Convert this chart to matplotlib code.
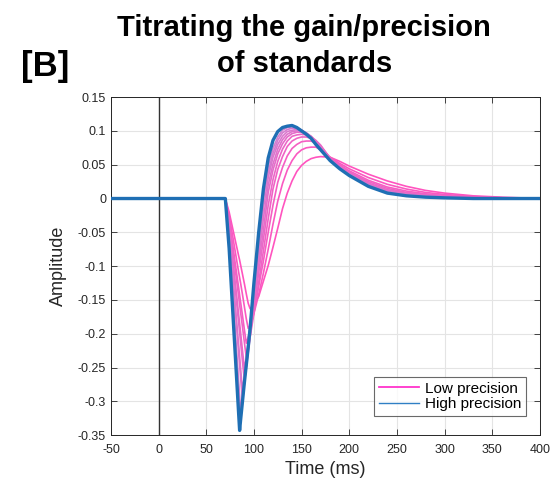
import matplotlib
matplotlib.use("Agg")
import matplotlib.pyplot as plt
from matplotlib.lines import Line2D
import numpy as np

plt.rcParams['font.family'] = ['Liberation Sans', 'DejaVu Sans']
plt.rcParams['axes.unicode_minus'] = False

# sample times (ms) shared by every curve
time_ms = [-50, 70, 74, 78, 80, 82, 84, 85, 86, 88, 90, 92, 94, 96,
           100, 105, 110, 115, 120, 125, 130, 135, 140, 145, 150, 155, 160, 165, 170,
           180, 190, 200, 220, 240, 260, 280, 300, 330, 360, 400]

# responses, lowest precision first, highest precision last
prec_01 = [0, 0, -0.020, -0.046, -0.059, -0.072, -0.085, -0.091, -0.098, -0.112, -0.126, -0.141, -0.155, -0.163,
           -0.157, -0.145, -0.122, -0.099, -0.072, -0.044, -0.015, 0.008, 0.026, 0.040, 0.049, 0.055, 0.059, 0.061, 0.062,
           0.061, 0.055, 0.048, 0.036, 0.026, 0.018, 0.012, 0.008, 0.004, 0.002, 0]
prec_02 = [0, 0, -0.025, -0.058, -0.075, -0.092, -0.109, -0.117, -0.125, -0.142, -0.160, -0.178, -0.192, -0.188,
           -0.170, -0.142, -0.110, -0.075, -0.038, -0.004, 0.022, 0.042, 0.056, 0.066, 0.072, 0.075, 0.076, 0.076, 0.072,
           0.061, 0.052, 0.044, 0.031, 0.021, 0.014, 0.009, 0.006, 0.003, 0.001, 0]
prec_03 = [0, 0, -0.031, -0.071, -0.092, -0.112, -0.132, -0.143, -0.153, -0.173, -0.194, -0.214, -0.205, -0.192,
           -0.168, -0.130, -0.092, -0.050, -0.010, 0.024, 0.046, 0.063, 0.074, 0.080, 0.084, 0.085, 0.085, 0.082, 0.076,
           0.060, 0.050, 0.041, 0.027, 0.017, 0.011, 0.007, 0.0045, 0.002, 0.001, 0]
prec_04 = [0, 0, -0.034, -0.078, -0.101, -0.123, -0.145, -0.157, -0.168, -0.190, -0.213, -0.235, -0.222, -0.205,
           -0.170, -0.124, -0.077, -0.030, 0.014, 0.043, 0.062, 0.077, 0.085, 0.089, 0.091, 0.091, 0.089, 0.085, 0.078,
           0.060, 0.048, 0.039, 0.025, 0.015, 0.009, 0.006, 0.004, 0.0015, 0.001, 0]
prec_05 = [0, 0, -0.040, -0.092, -0.119, -0.145, -0.172, -0.185, -0.198, -0.225, -0.251, -0.236, -0.218, -0.200,
           -0.162, -0.110, -0.060, -0.010, 0.028, 0.055, 0.073, 0.085, 0.092, 0.094, 0.095, 0.094, 0.091, 0.086, 0.079,
           0.059, 0.047, 0.038, 0.023, 0.013, 0.008, 0.005, 0.003, 0.001, 0.0005, 0]
prec_06 = [0, 0, -0.042, -0.099, -0.127, -0.156, -0.184, -0.198, -0.212, -0.241, -0.269, -0.250, -0.228, -0.205,
           -0.156, -0.098, -0.046, 0.009, 0.042, 0.066, 0.081, 0.091, 0.096, 0.098, 0.098, 0.096, 0.092, 0.085, 0.077,
           0.059, 0.046, 0.037, 0.022, 0.012, 0.007, 0.004, 0.0025, 0.001, 0, 0]
prec_07 = [0, 0, -0.050, -0.117, -0.150, -0.184, -0.217, -0.234, -0.251, -0.284, -0.262, -0.240, -0.217, -0.193,
           -0.148, -0.087, -0.029, 0.020, 0.051, 0.073, 0.087, 0.095, 0.099, 0.100, 0.100, 0.097, 0.092, 0.084, 0.076,
           0.058, 0.046, 0.036, 0.021, 0.011, 0.006, 0.004, 0.002, 0.001, 0, 0]
prec_08 = [0, 0, -0.053, -0.123, -0.158, -0.193, -0.229, -0.246, -0.264, -0.299, -0.274, -0.249, -0.223, -0.197,
           -0.142, -0.078, -0.014, 0.031, 0.061, 0.080, 0.092, 0.099, 0.101, 0.102, 0.101, 0.097, 0.091, 0.083, 0.075,
           0.058, 0.045, 0.036, 0.020, 0.010, 0.006, 0.003, 0.002, 0.0005, 0, 0]
prec_09 = [0, 0, -0.063, -0.147, -0.188, -0.230, -0.272, -0.293, -0.314, -0.290, -0.264, -0.238, -0.211, -0.184,
           -0.135, -0.068, 0.000, 0.039, 0.067, 0.086, 0.097, 0.102, 0.104, 0.104, 0.101, 0.096, 0.090, 0.082, 0.074,
           0.057, 0.045, 0.035, 0.020, 0.010, 0.005, 0.003, 0.0015, 0, 0, 0]
prec_10 = [0, 0, -0.066, -0.153, -0.197, -0.241, -0.284, -0.306, -0.328, -0.302, -0.274, -0.247, -0.219, -0.190,
           -0.130, -0.060, 0.008, 0.048, 0.074, 0.091, 0.101, 0.105, 0.106, 0.105, 0.101, 0.096, 0.090, 0.081, 0.073,
           0.057, 0.044, 0.035, 0.019, 0.009, 0.005, 0.002, 0.001, 0, 0, 0]
prec_11 = [0, 0, -0.074, -0.172, -0.221, -0.270, -0.319, -0.343, -0.328, -0.300, -0.272, -0.246, -0.220, -0.192,
           -0.125, -0.050, 0.015, 0.060, 0.086, 0.099, 0.105, 0.107, 0.108, 0.105, 0.100, 0.095, 0.089, 0.080, 0.072,
           0.056, 0.044, 0.034, 0.018, 0.008, 0.004, 0.002, 0.001, 0, 0, 0]

curves = [prec_01, prec_02, prec_03, prec_04, prec_05, prec_06,
          prec_07, prec_08, prec_09, prec_10, prec_11]

x_ticks = [-50, 0, 50, 100, 150, 200, 250, 300, 350, 400]
y_ticks = [-0.35, -0.3, -0.25, -0.2, -0.15, -0.1, -0.05, 0, 0.05, 0.1, 0.15]
y_tick_labels = ['-0.35', '-0.3', '-0.25', '-0.2', '-0.15', '-0.1', '-0.05', '0', '0.05', '0.1', '0.15']

pink = np.array([1.0, 0.33, 0.75])
lilac = np.array([0.82, 0.50, 0.82])
blue = '#1f6fb4'

fig = plt.figure(figsize=(5.52, 4.83), dpi=100)
ax = fig.add_axes([0.201, 0.099, 0.777, 0.700])

ax.axvline(0, color='#333333', lw=1.0, zorder=1)

n = len(curves)
for i, vals in enumerate(curves):
    if i == n - 1:
        ax.plot(time_ms, vals, color=blue, lw=2.4, zorder=3)
    else:
        frac = i / (n - 2)
        col = pink * (1 - frac) + lilac * frac
        ax.plot(time_ms, vals, color=col, lw=1.2, zorder=2)

ax.set_xlim(-50, 400)
ax.set_ylim(-0.35, 0.15)
ax.set_xticks(x_ticks)
ax.set_yticks(y_ticks)
ax.set_yticklabels(y_tick_labels)
ax.grid(True, color='#e4e4e4', lw=0.8)
ax.set_axisbelow(True)
ax.tick_params(direction='in', top=True, right=True, labelsize=9,
               colors='#262626', length=4, width=0.6)
ax.tick_params(axis='x', pad=6)
for s in ax.spines.values():
    s.set_color('#262626')
    s.set_linewidth(0.7)

ax.set_xlabel('Time (ms)', fontsize=13, color='#262626', labelpad=4)
ax.set_ylabel('Amplitude', fontsize=13, color='#262626', labelpad=8)

fig.text(0.551, 0.972, 'Titrating the gain/precision\nof standards', ha='center', va='top',
         fontsize=21, fontweight='bold', linespacing=1.38)
fig.text(0.038, 0.862, '[B]', fontsize=25, fontweight='bold', ha='left', va='center')

handles = [Line2D([], [], color='#ff33cc', lw=1.3),
           Line2D([], [], color='#2f7fc4', lw=1.0)]
leg = ax.legend(handles, ['Low precision', 'High precision'], loc='lower right',
                fontsize=11, frameon=True, fancybox=False, borderpad=0.3,
                handlelength=2.6, handletextpad=0.4, labelspacing=0.1,
                bbox_to_anchor=(0.985, 0.035))
leg.get_frame().set_edgecolor('#444444')
leg.get_frame().set_linewidth(0.8)

fig.savefig('out.png', dpi=100)
